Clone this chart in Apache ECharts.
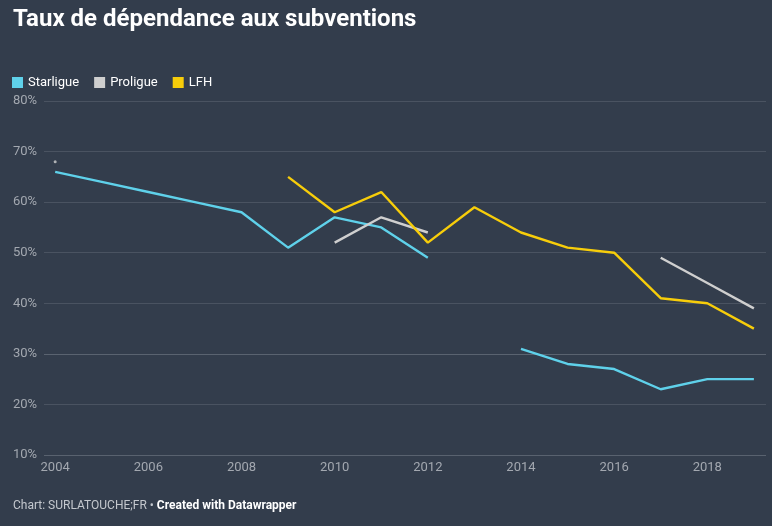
<!DOCTYPE html>
<html><head><meta charset="utf-8">
<script src="https://cdn.jsdelivr.net/npm/echarts@6/dist/echarts.min.js"></script>
<style>html,body{margin:0;padding:0;background:#333d4c;}#c{width:772px;height:526px;}</style>
</head><body><div id="c"></div>
<script>
const years = [2004,2005,2006,2007,2008,2009,2010,2011,2012,2013,2014,2015,2016,2017,2018,2019];
const starligue = [66,64,62,60,58,51,57,55,49,null,31,28,27,23,25,25];
const proligue  = [68,null,null,null,null,null,52,57,54,null,null,null,null,49,44,39];
const lfh       = [null,null,null,null,null,65,58,62,52,59,54,51,50,41,40,35];
const xTicks = [2004,2006,2008,2010,2012,2014,2016,2018];
const yTicks = [10,20,30,40,50,60,70,80];

const names = ['Starligue','Proligue','LFH'];
const colors = ['#5fd1ea','#cfcfcf','#f7cd0a'];
const values = [starligue, proligue, lfh];

function pairs(arr){ return years.map((y,i)=>[y, arr[i]]); }
function isolated(arr){
  const out=[];
  arr.forEach((v,i)=>{ if(v!=null && (i===0||arr[i-1]==null) && (i===arr.length-1||arr[i+1]==null)) out.push([years[i],v]); });
  return out;
}
const series = [];
values.forEach((arr,k)=>{
  series.push({name:names[k], type:'line', data:pairs(arr), showSymbol:false, connectNulls:false,
    lineStyle:{width:2.4,color:colors[k]}, itemStyle:{color:colors[k]}, emphasis:{disabled:true}});
  const iso = isolated(arr);
  if(iso.length) series.push({name:names[k], type:'scatter', data:iso, symbolSize:3, itemStyle:{color:colors[k]}, silent:true});
});

const chart = echarts.init(document.getElementById('c'));
chart.setOption({
  backgroundColor:'#333d4c',
  animation:false,
  title:{text:'Taux de dépendance aux subventions', left:8, top:3,
    textStyle:{color:'#ffffff', fontFamily:'Roboto', fontWeight:'bold', fontSize:24}},
  legend:{left:7, top:71, icon:'rect', itemWidth:11, itemHeight:11, itemGap:15,
    data:names, textStyle:{color:'#ffffff', fontFamily:'Roboto', fontSize:13}},
  grid:{left:44, right:6, top:101, bottom:71, containLabel:false},
  xAxis:{type:'value', min:2003.76, max:2019.26,
    axisLine:{show:false}, axisTick:{show:false}, splitLine:{show:false},
    axisLabel:{customValues:xTicks, color:'#a3a8b0', fontFamily:'Roboto', fontSize:13, margin:6, formatter:v=>String(Math.round(v))}},
  yAxis:{type:'value', min:10, max:80, interval:10,
    axisLine:{show:false}, axisTick:{show:false},
    splitLine:{show:true, lineStyle:{color:['#59626f','#4a5361','#5a6370','#4a5361','#4a5361','#4a5361','#4a5361','#4a5361'], width:1}},
    axisLabel:{color:'#a3a8b0', fontFamily:'Roboto', fontSize:13, align:'left', margin:31, formatter:'{value}%'}},
  graphic:[{type:'text', left:13, top:500, style:{
    rich:{a:{fill:'#c4c8ce', fontFamily:'Roboto', fontSize:12}, b:{fill:'#ffffff', fontFamily:'Roboto', fontSize:12, fontWeight:'bold'}},
    text:'{a|Chart: SURLATOUCHE;FR • }{b|Created with Datawrapper}'}}],
  series: series
});
</script>
</body></html>
